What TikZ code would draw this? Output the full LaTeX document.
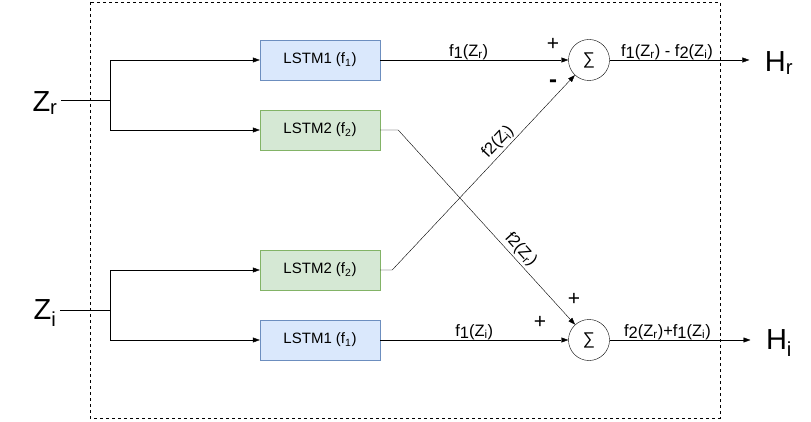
\documentclass[tikz,border=0pt]{standalone}
\usepackage{fontspec}
\setmainfont{Liberation Sans}
\usetikzlibrary{calc}
\usetikzlibrary{positioning}
\usetikzlibrary{arrows.meta}
\definecolor{lblue}{HTML}{6C8EBF}
\definecolor{fblue}{HTML}{DAE8FC}
\definecolor{lgreen}{HTML}{82B366}
\definecolor{fgreen}{HTML}{D5E8D4}
\newcommand{\ts}[1]{\textsubscript{#1}}
\newcommand{\lo}[1]{\raisebox{-2.5pt}{#1}}

\begin{document}
\begin{tikzpicture}[x=1pt, y=-1pt,
		lb/.style = {rectangle, draw=lblue,	fill=fblue,	minimum width=120, minimum height=40, font=\fontsize{15}{17}\selectfont},
		lg/.style = {rectangle, draw=lgreen,	fill=fgreen,	minimum width=120, minimum height=40, font=\fontsize{15}{17}\selectfont},
		sm/.style = {circle, draw, minimum size=41, inner sep=0, font=\fontsize{17}{17}\selectfont},
		big/.style = {font=\fontsize{29}{31}\selectfont},
		lab/.style = {font=\fontsize{16.5}{18}\selectfont},
		pm/.style = {font=\fontsize{21}{21}\selectfont},
		r/.style = {-{Triangle[length=7pt, width=5pt]}}
		]
		\useasboundingbox (0,0) rectangle (811,422);
		\draw[dashed] (90,2) rectangle (720,418);
		
		%Nodes
		\node[big]	(zr)	at	(45,103)	{Z\ts{r}};
		\node[big]	(zi)	at	(45,313)	{Z\ts{i}};
		\coordinate	(sr)	at	(110,100);
		\coordinate	(si)	at	(110,310);
		\node[lb]	(l1a)	at	(320,60)	{LSTM1 (f\ts{1})};
		\node[lg]	(l2a)	at	(320,130)	{LSTM2 (f\ts{2})};
		\node[lg]	(l2b)	at	(320,270)	{LSTM2 (f\ts{2})};
		\node[lb]	(l1b)	at	(320,340)	{LSTM1 (f\ts{1})};
		\node[sm]	(s1)	at	(589,60)	{∑};
		\node[sm]	(s2)	at	(589,340)	{∑};
		\node[big]	(hr)	at	(779,63)	{H\ts{r}};
		\node[big]	(hi)	at	(779,343)	{H\ts{i}};
		\node[pm]	(p1)	at	(553,44)	{+};
		\node[pm, font=\fontsize{24}{24}\bfseries]	(m1)	at	(553,84)	{-};
		\node[pm]	(p2)	at	(574,299)	{+};
		\node[pm]	(p3)	at	(540,322)	{+};
		
		%Lines
		\draw	(zr.east |- sr)	--	(sr);
		\draw	(zi.east |- si)	--	(si);
		\draw[r]	(sr)	|-	(l1a.west);
		\draw[r]	(sr)	|-	(l2a.west);
		\draw[r]	(si)	|-	(l2b.west);
		\draw[r]	(si)	|-	(l1b.west);
		\draw[r]	(l1a)	--	node[lab, pos=0.47, above=3]	{f\lo{1}(Z\ts{r})}	(s1);
		\draw[r]	(l1b)	--	node[lab, pos=0.5, above=3]	{f\lo{1}(Z\ts{i})}	(s2);
		\draw[r]	(l2a.east)	--	++(18,0)	--	node[lab, pos=0.65, sloped, above=1]	{f2(Z\ts{r})}	(s2);
		\draw[r]	(l2b.east)	--	++(12,0)	--	node[lab, pos=0.62, sloped, above=1]	{f2(Z\ts{i})}	(s1);
		\draw[r]	(s1)	--	node[lab, pos=0.41, above=3]	{f\lo{1}(Z\ts{r}) - f\lo{2}(Z\ts{i})}	([xshift=-12pt]hr.west |- s1);
		\draw[r]	(s2)	--	node[lab, pos=0.41, above=3]	{f\lo{2}(Z\ts{r})+f\lo{1}(Z\ts{i})}	([xshift=-12pt]hi.west |- s2);
	\end{tikzpicture}
\end{document}
